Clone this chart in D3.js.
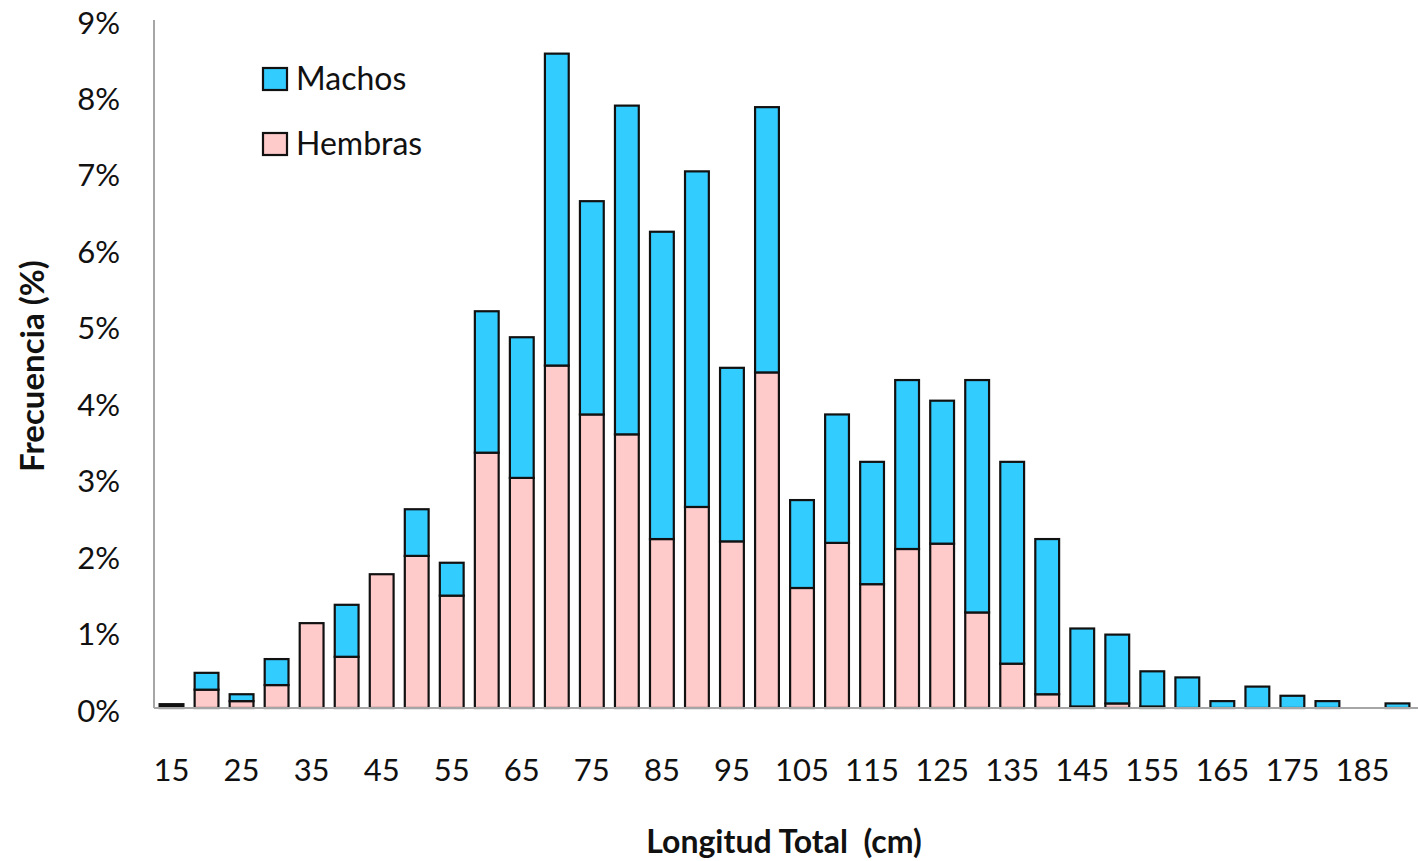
<!DOCTYPE html>
<html>
<head>
<meta charset="utf-8">
<script src="https://cdn.jsdelivr.net/npm/d3@7"></script>
<style>
  html, body { margin: 0; padding: 0; background: #fff; }
  svg { display: block; font-family: Lato, "Open Sans", sans-serif; }
</style>
</head>
<body>
<svg id="chart" width="1418" height="861"></svg>
<script>
// Length classes (cm)
const categories = [15,20,25,30,35,40,45,50,55,60,65,70,75,80,85,90,95,100,105,110,115,120,125,130,135,140,145,150,155,160,165,170,175,180,185,190];
// Hembras (females) frequency, %
const hembras = [0.05,0.24,0.09,0.30,1.11,0.67,1.75,1.99,1.47,3.34,3.01,4.48,3.84,3.58,2.21,2.63,2.18,4.39,1.57,2.16,1.62,2.08,2.15,1.25,0.58,0.18,0.02,0.06,0.02,0,0,0,0,0,0,0];
// Machos (males) frequency, % (stacked on top of hembras)
const machos = [0,0.22,0.09,0.34,0,0.68,0,0.61,0.43,1.85,1.84,4.08,2.79,4.30,4.02,4.39,2.27,3.47,1.15,1.68,1.60,2.21,1.87,3.04,2.64,2.03,1.02,0.90,0.46,0.40,0.09,0.28,0.16,0.09,0,0.06];
const yTicks = [0,1,2,3,4,5,6,7,8,9];
const xTickLabels = [15,25,35,45,55,65,75,85,95,105,115,125,135,145,155,165,175,185];
const seriesNames = ["Machos","Hembras"];
const seriesColors = {Machos: "#33CCFF", Hembras: "#FFCACA"};

(function () {
const svg = d3.select("#chart");
const mLeft = 154, mRight = 1415, mTop = 20, mBottom = 708;

const x = d3.scaleBand().domain(categories).range([mLeft, mRight]).paddingInner(0.32).paddingOuter(0.16);
const y = d3.scaleLinear().domain([0, 9]).range([mBottom, mTop]);

const rows = categories.map((c, i) => ({cat: c, Hembras: hembras[i], Machos: machos[i]}));
const stack = d3.stack().keys(["Hembras","Machos"])(rows);

// bars
const g = svg.append("g");
stack.forEach(layer => {
  g.selectAll(null).data(layer.filter(d => d[1] - d[0] > 0)).join("rect")
    .attr("x", d => x(d.data.cat))
    .attr("width", x.bandwidth())
    .attr("y", d => y(d[1]))
    .attr("height", d => y(d[0]) - y(d[1]))
    .attr("fill", d => (y(d[0]) - y(d[1]) < 5 && layer.key === "Hembras" && d.data.Machos === 0) ? "#111" : seriesColors[layer.key])
    .attr("stroke", "#111")
    .attr("stroke-width", 2.2);
});

// axes lines
svg.append("line").attr("x1", mLeft).attr("x2", mLeft).attr("y1", mTop).attr("y2", mBottom)
  .attr("stroke", "#a6a6a6").attr("stroke-width", 2);
svg.append("line").attr("x1", mLeft).attr("x2", 1418).attr("y1", mBottom).attr("y2", mBottom)
  .attr("stroke", "#a6a6a6").attr("stroke-width", 2);

// y tick labels
const yAxis = d3.axisLeft(y).tickValues(yTicks).tickFormat(d => d + "%").tickSize(0).tickPadding(34);
const ya = svg.append("g").attr("transform", `translate(${mLeft},0)`).call(yAxis);
ya.select(".domain").remove();
ya.selectAll("text").attr("font-size", 31).attr("fill", "#111").attr("font-family", "Lato, sans-serif").attr("dy", "0.42em");

// x tick labels
const xAxis = d3.axisBottom(x).tickValues(xTickLabels).tickSize(0).tickPadding(62);
const xa = svg.append("g").attr("transform", `translate(0,${mBottom})`).call(xAxis);
xa.select(".domain").remove();
xa.selectAll("text").attr("font-size", 31).attr("fill", "#111").attr("font-family", "Lato, sans-serif").attr("dy", "0.35em");

// axis titles
svg.append("text").attr("x", 784).attr("y", 853).attr("text-anchor", "middle")
  .attr("font-size", 32).attr("font-weight", "bold").attr("fill", "#111")
  .style("white-space", "pre").text("Longitud Total  (cm)");
svg.append("text").attr("transform", "translate(44,366) rotate(-90)").attr("text-anchor", "middle")
  .attr("font-size", 33).attr("font-weight", "bold").attr("fill", "#111")
  .text("Frecuencia (%)");

// legend
const legend = svg.append("g");
seriesNames.forEach((name, i) => {
  const ly = 68 + i * 65;
  legend.append("rect").attr("x", 263).attr("y", ly).attr("width", 24).attr("height", 22)
    .attr("fill", seriesColors[name]).attr("stroke", "#111").attr("stroke-width", 2.2);
  legend.append("text").attr("x", 296).attr("y", ly + 22).attr("font-size", 32).attr("fill", "#111")
    .text(name);
});
})();
</script>
</body>
</html>
